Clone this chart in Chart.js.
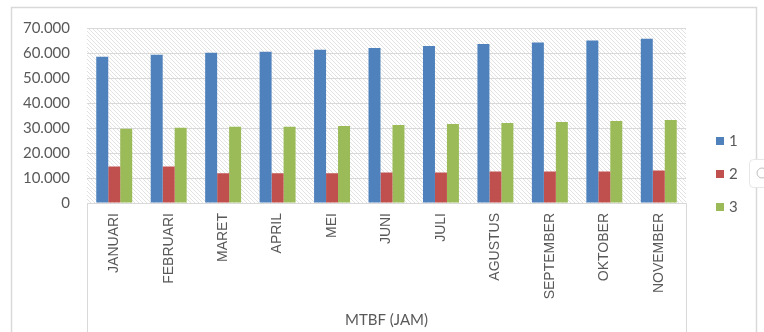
<!DOCTYPE html>
<html>
<head>
<meta charset="utf-8">
<title>MTBF (JAM)</title>
<script src="https://cdn.jsdelivr.net/npm/chart.js@4/dist/chart.umd.min.js"></script>
<style>
  html, body { margin: 0; padding: 0; background: #fff; }
  #wrap { width: 764px; height: 332px; position: relative; }
</style>
</head>
<body>
<div id="wrap"><canvas id="chart" width="764" height="332"></canvas></div>
<script>
// Data
const MONTHS = [
  "JANUARI", "FEBRUARI", "MARET", "APRIL", "MEI", "JUNI",
  "JULI", "AGUSTUS", "SEPTEMBER", "OKTOBER", "NOVEMBER",
];
const SERIES_1 = [58500, 59300, 60100, 60500, 61300, 62000, 62800, 63600, 64200, 65000, 65700];
const SERIES_2 = [14600, 14600, 11900, 11900, 11900, 12200, 12200, 12600, 12600, 12600, 13000];
const SERIES_3 = [29700, 30100, 30500, 30500, 30800, 31200, 31600, 32000, 32400, 32800, 33200];
const SERIES_NAMES = ["1", "2", "3"];
const Y_MAX = 70000;
const Y_STEP = 10000;
const AXIS_TITLE = "MTBF (JAM)";

const COLORS = ["#4f81bd", "#c0504d", "#9bbb59"];
const TEXT = "#595959";
const LINE = "#d9d9d9";

// "70000" -> "70.000"
function formatTick(v) {
  if (v === 0) return "0";
  return String(v).replace(/\B(?=(\d{3})+(?!\d))/g, ".");
}

// ── Plugins ──────────────────────────────────────────────────────────────────

// light diagonal hatch behind the plot area
const hatchBackground = {
  id: "hatchBackground",
  beforeDraw(chart) {
    const { ctx, chartArea: a } = chart;
    const tile = document.createElement("canvas");
    tile.width = 4;
    tile.height = 4;
    const t = tile.getContext("2d");
    t.strokeStyle = "#e2e2e2";
    t.lineWidth = 1;
    t.beginPath();
    t.moveTo(-1, -1); t.lineTo(5, 5);
    t.moveTo(-1, 3); t.lineTo(1, 5);
    t.moveTo(3, -1); t.lineTo(5, 1);
    t.stroke();
    ctx.save();
    ctx.fillStyle = ctx.createPattern(tile, "repeat");
    ctx.fillRect(a.left, a.top, a.right - a.left, a.bottom - a.top);
    ctx.restore();
  },
};

// chart frame, category box lines and the legend on the right
const frameAndLegend = {
  id: "frameAndLegend",
  afterDraw(chart) {
    const { ctx, chartArea: a, height } = chart;
    ctx.save();

    // outer chart border
    ctx.strokeStyle = LINE;
    ctx.lineWidth = 1.5;
    ctx.strokeRect(11.5, 7.5, 745, height);

    // box round the category labels
    ctx.lineWidth = 1;
    ctx.beginPath();
    ctx.moveTo(Math.round(a.left) + 0.5, a.bottom);
    ctx.lineTo(Math.round(a.left) + 0.5, height);
    ctx.moveTo(Math.round(a.right) + 0.5, a.bottom);
    ctx.lineTo(Math.round(a.right) + 0.5, height);
    ctx.stroke();

    // legend
    ctx.font = "15px Lato";
    ctx.textBaseline = "middle";
    chart.data.datasets.forEach((ds, i) => {
      const y = 141 + i * 33;
      ctx.fillStyle = ds.backgroundColor;
      ctx.fillRect(716, y - 4, 8, 8);
      ctx.fillStyle = TEXT;
      ctx.fillText(ds.label, 729, y);
    });

    // bit of a popup button peeking in at the right edge
    ctx.fillStyle = "#ffffff";
    ctx.strokeStyle = "#e6e6e6";
    ctx.beginPath();
    ctx.roundRect(749.5, 159.5, 30, 28, 4);
    ctx.fill();
    ctx.stroke();
    ctx.strokeStyle = "#bfbfbf";
    ctx.beginPath();
    ctx.arc(762, 173, 5, 0, Math.PI * 2);
    ctx.stroke();

    ctx.restore();
  },
};

// ── Chart ────────────────────────────────────────────────────────────────────

new Chart(document.getElementById("chart"), {
  type: "bar",
  data: {
    labels: MONTHS,
    datasets: [SERIES_1, SERIES_2, SERIES_3].map((values, i) => ({
      label: SERIES_NAMES[i],
      data: values,
      backgroundColor: COLORS[i],
      borderWidth: 0,
      categoryPercentage: 0.66,
      barPercentage: 1.0,
    })),
  },
  options: {
    responsive: false,
    animation: false,
    events: [],
    layout: {
      autoPadding: false,
      padding: { left: 0, top: 28, right: 78, bottom: 0 },
    },
    plugins: {
      legend: { display: false },
      tooltip: { enabled: false },
    },
    scales: {
      x: {
        afterFit(scale) { scale.height = 129; },
        grid: { display: false, drawTicks: false },
        border: { display: true, color: LINE, width: 1 },
        ticks: {
          autoSkip: false,
          minRotation: 90,
          maxRotation: 90,
          padding: 10,
          color: TEXT,
          font: { family: "Liberation Sans", size: 14 },
        },
        title: {
          display: true,
          text: AXIS_TITLE,
          color: TEXT,
          font: { family: "Lato", size: 15 },
          padding: { top: 0, bottom: 3 },
        },
      },
      y: {
        min: 0,
        max: Y_MAX,
        afterFit(scale) { scale.width = 87; },
        grid: { color: LINE, lineWidth: 1, drawTicks: false },
        border: { display: false },
        ticks: {
          stepSize: Y_STEP,
          padding: 17,
          color: TEXT,
          font: { family: "Lato", size: 15 },
          callback: formatTick,
        },
      },
    },
  },
  plugins: [hatchBackground, frameAndLegend],
});
</script>
</body>
</html>
